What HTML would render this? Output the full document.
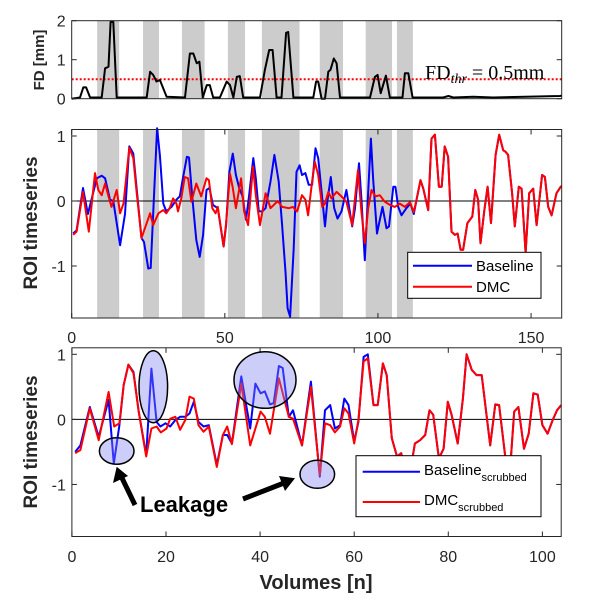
<!DOCTYPE html>
<html><head><meta charset="utf-8"><style>
html,body{margin:0;padding:0;background:#fff;}
svg{display:block;font-family:"Liberation Sans",Arial,sans-serif;}
.tk{font-size:16px;fill:#262626;}
</style></head><body>
<svg id="fig" width="605" height="605" viewBox="0 0 605 605" xmlns="http://www.w3.org/2000/svg">
<g id="bands1"></g>
<g id="bands2"></g>
<g id="marks"></g>
<g id="axes"></g>
</svg>
<script>
// ---- data ----
const bandStart=[8.3,23.3,36,51,62.1,81,96,106.2];
const bandEnd=[15.5,28.5,43.4,56.6,74.4,88.6,104.6,111.4];
const fdThr=0.5;
const fdX=[0,2.7,3.8,4.7,6,9.8,10.9,12,12.7,13.6,14.7,24.5,25.6,26.6,27.7,28.8,31,37,38.6,39.7,40.8,41.7,42.8,44.1,45.1,46.2,48.4,50.6,51.7,52.8,53.9,54.9,56,61.5,63.1,64.5,65.6,66.9,68.5,70,70.7,72.4,78.9,79.8,80.5,81.6,82.7,83.8,84.5,85.6,86.5,87.6,97.4,99,99.9,100.9,102.6,103.9,108,108.8,109.9,111.3,121.3,123,124.6,131.1,137.6,159.4,160];
const fdY=[0,0.03,0.29,0.29,0.03,0.03,0.78,0.82,1.97,1.97,0.03,0.03,0.69,0.61,0.44,0.48,0.05,0.03,1.16,1.16,0.91,0.95,0.03,0.35,0.35,0.03,0.03,0.44,0.35,0.03,0.56,0.58,0.03,0.03,0.74,1.25,1.25,0.03,0.03,1.69,1.71,0.03,0.03,0.44,0.44,0,0,0.69,0.74,1.03,0.91,0.03,0.03,0.56,0.61,0.14,0.59,0.03,0.03,0.65,0.65,0.03,0.03,0.07,0.03,0.05,0.03,0.07,0.08];

const baseX=[0.5,1.6,3.7,5.3,8.2,9.8,10.9,12.5,13.6,15.8,17.4,18.8,20.1,21.2,22.8,23.6,25,25.8,27.9,28.8,29.9,30.9,32.6,34.2,35.3,36.3,37.6,38.3,39.4,40.7,41.8,42.9,44,45,46.1,47.7,49.6,50.4,51.5,52.6,53.6,54.7,55.8,56.9,57.9,59.3,60.1,61.1,62.2,63.3,64.9,66.2,67.6,68.7,69.8,70.5,71.3,72.5,73.4,74.4,75.2,76.3,77.4,78.5,79.6,80.5,81.6,82.7,83.5,84.6,85.7,86.8,88.1,89.7,91.6,92.5,93.8,94.6,95.7,96.8,97.7,98.4,99.7,101.5,102.8,103.6,105,105.7,106.6,107.7,109.3,110.6,111.7];
const baseY=[-0.5,-0.45,0.2,-0.2,0.35,0.39,0.35,0.02,0,-0.68,-0.2,0.84,0.73,0.2,-0.57,-0.63,-1.04,-1.03,1.12,0.7,-0.04,-0.16,-0.09,0.02,0.07,0.35,0.68,0.67,0.04,-0.6,-0.86,-0.52,0.17,0.2,-0.06,-0.11,-0.7,-0.37,0.45,0.73,0.4,0.2,0.07,-0.29,0.07,0.66,0.35,-0.16,-0.16,-0.11,0.3,0.71,0.3,-0.37,-1.09,-1.65,-1.78,-0.73,0.45,0.55,0.4,0.43,0.25,0.25,0.81,0.66,0.14,-0.39,0,0.37,-0.11,-0.27,-0.16,0.17,-0.39,-0.11,0.58,0.04,-0.91,0.14,0.96,0.35,-0.5,-0.09,-0.42,-0.39,0.22,0.22,-0.09,-0.22,-0.11,-0.04,-0.2];
const dmcX=[0.5,1.6,3.7,5.6,7.6,8.7,9.8,10.9,12,13,14.7,15.8,16.9,18.8,20.1,21.2,22.8,24.5,25.6,26.6,28.3,29.9,30.9,32,33.1,34.2,34.7,35.8,36.9,38,39.1,40.7,42.3,44,44.8,45.9,47,47.7,49.6,50.4,51.7,52.6,53.6,55.3,56.3,57.6,59.2,60.1,61.5,63.3,64.9,67.3,68.7,70.9,72.2,73.6,75.2,76.3,77.2,78.5,79.4,80.5,81.8,82.7,83.8,84.8,86.5,88.1,89.7,91.6,93.5,94.6,95.7,96.8,97.9,99.2,100.6,102.2,103.9,105.5,107.1,108.8,110.4,111.7];
const dmcY=[-0.52,-0.47,0.14,-0.47,0.43,0.17,0.09,0.27,0.07,-0.09,0.17,-0.19,-0.04,0.82,0.66,0.14,-0.57,-0.34,-0.19,-0.37,-0.19,-0.14,-0.19,-0.11,0.04,-0.04,-0.16,0.04,0.37,0.35,-0.01,0.27,0.07,0.35,0.32,-0.11,-0.19,-0.09,-0.7,-0.34,0.42,0.2,-0.11,0.35,-0.16,-0.37,0.53,0.09,-0.37,0.12,-0.11,0,-0.09,-0.11,-0.09,-0.16,0.09,0.02,-0.22,0.3,0.6,0.4,-0.09,-0.04,0.14,0.04,0.14,0.07,-0.01,-0.37,0.48,-0.16,-0.65,-0.11,0.17,0.07,0.09,-0.01,-0.06,-0.09,-0.04,-0.09,-0.02,-0.17];
const lateX=[112.8,113.9,114.8,116.4,117.5,118.6,119.9,120.8,121.8,122.9,124,125.1,126,127,127.8,129.2,130.8,131.8,132.7,133.5,134.7,135.8,136.9,138.4,139.6,140.9,141.6,142.5,143.8,144.7,146,146.9,148.2,149.4,150.7,151.8,153.6,154.5,155.6,156.7,158.3,159.7,160];
const lateY=[0.07,0.32,0.19,-0.14,0.96,1.02,0.22,0.22,0.84,0.68,-0.47,-0.52,-0.5,-0.75,-0.75,-0.34,-0.24,0.17,0.02,-0.65,-0.16,0.22,-0.34,0.71,1.02,0.78,0.76,0.71,0.12,-0.39,0.22,0.19,-0.8,0.12,0.19,-0.37,0.4,0.37,-0.09,-0.22,0.12,0.22,0.23];

const sBaseX=[0.7,1.8,3.8,5.7,7.8,8.9,10.1,11,12,13.1,14.2,15.8,16.9,18,18.8,19.9,20.9,22,23,24.1,25,25.9,26.9,28,29.1,30.8,32.1,33,34,36,37.9,39,40.1,41,42.1,42.9,44,44.8,46.1,47,48.9,50.8,52.7,53.8,54.9,55.9,57,57.9,58.8,60,60.9,62,62.9];
const sBaseY=[-0.5,-0.4,0.19,-0.27,0.3,-0.68,-0.09,0.53,0.84,0.73,0.12,-0.55,0.78,-0.04,-0.11,-0.06,-0.11,-0.01,0.04,0.04,0.09,0.27,-0.04,-0.11,-0.09,-0.7,-0.24,-0.24,-0.37,0.66,-0.14,0.55,0.4,0.43,0.23,0.25,0.82,0.79,0.04,0.14,-0.4,0.58,-0.88,0.14,0.22,-0.14,-0.09,0.32,0.22,-0.34,-0.04,0.96,1.0];
const sDmcX=[0.7,1.8,3.8,5.7,7.8,9,10.1,11,12,13.1,14.2,15.8,16.9,18,18.9,20.1,20.9,22,23,24.1,25,25.9,26.9,28,29.1,30.8,32.1,33,34,36,37.9,40.1,41,42.1,44,46.1,47,48.9,50.8,52.7,53.8,54.9,55.9,57,57.9,58.8,60,60.9,62,62.9];
const sDmcY=[-0.52,-0.47,0.17,-0.32,0.42,-0.11,-0.06,0.53,0.84,0.71,0.12,-0.57,-0.14,-0.11,-0.2,-0.14,0.01,0.04,-0.16,-0.01,0.35,0.32,-0.09,-0.19,-0.11,-0.73,-0.24,-0.11,-0.38,0.55,-0.4,0.12,0.04,-0.22,0.63,0.04,0.01,-0.4,0.5,-0.86,-0.06,-0.09,-0.2,-0.11,0.17,0.09,-0.37,-0.01,0.89,0.94];
const sLateX=[64.1,65,66.1,66.9,68,69.1,70,70.8,71.9,72.9,74,75.1,76,76.8,78,79,79.9,80.7,82,83.1,83.9,85,86,87.1,88.9,90,90.8,92.2,93.2,94,94.9,96.1,97.1,98.1,99,100,101.1,102.2,103.1,104.2];
const sLateY=[0.22,0.22,0.86,0.68,-0.29,-0.57,-0.52,-0.78,-0.8,-0.37,-0.32,-0.24,0.14,0.07,-0.6,-0.45,0.27,0.07,-0.37,0.32,1.0,0.76,0.68,0.68,-0.4,0.23,0.22,-0.63,-0.7,0.12,0.19,-0.45,-0.22,0.4,0.38,-0.09,-0.22,-0.01,0.14,0.22];

// ---- scales ----
const P1={x0:71.7,x1:561.7,xmin:0,xmax:160,y0:98.7,y1:20.7,ymin:0,ymax:2};
const P2={x0:71.7,x1:561.7,xmin:0,xmax:160,y0:318,y1:129.5,ymin:-1.8,ymax:1.1};
const P3={x0:71.9,x1:561.2,xmin:0,xmax:104,y0:536.5,y1:347.8,ymin:-1.8,ymax:1.1};
function sx(P,v){return P.x0+(v-P.xmin)/(P.xmax-P.xmin)*(P.x1-P.x0);}
function sy(P,v){return P.y0+(v-P.ymin)/(P.ymax-P.ymin)*(P.y1-P.y0);}
const NS="http://www.w3.org/2000/svg";
function mk(tag,parent,attrs){const e=document.createElementNS(NS,tag);for(const k in attrs)e.setAttribute(k,attrs[k]);parent.appendChild(e);return e;}
function pathD(P,xs,ys){let d="";for(let i=0;i<xs.length;i++){const x=Math.min(Math.max(xs[i],P.xmin),P.xmax);d+=(i?"L":"M")+sx(P,x).toFixed(1)+","+sy(P,ys[i]).toFixed(1);}return d;}

const b1=document.getElementById('bands1'),b2=document.getElementById('bands2');
const marks=document.getElementById('marks'),axes=document.getElementById('axes');
for(let i=0;i<bandStart.length;i++){
  for(const [P,g] of [[P1,b1],[P2,b2]]){
    const r=mk('rect',g,{x:sx(P,bandStart[i]),y:P.y1,width:sx(P,bandEnd[i])-sx(P,bandStart[i]),height:P.y0-P.y1,fill:'#cccccc'});
    
    
  }
}
let e=mk('line',marks,{x1:P1.x0,x2:P1.x1,y1:sy(P1,fdThr),y2:sy(P1,fdThr),stroke:'#ff0000','stroke-width':2,'stroke-dasharray':'2,2'});


e=mk('path',marks,{d:pathD(P1,fdX,fdY),fill:'none',stroke:'#000','stroke-width':2,'stroke-linejoin':'round'});


for(const P of [P2,P3]){
  e=mk('line',marks,{x1:P.x0,x2:P.x1,y1:sy(P,0),y2:sy(P,0),stroke:'#000','stroke-width':1});
  
  
}
e=mk('path',marks,{d:pathD(P2,baseX.concat(lateX),baseY.concat(lateY)),fill:'none',stroke:'#0000ff','stroke-width':2,'stroke-linejoin':'round'});


e=mk('path',marks,{d:pathD(P2,dmcX.concat(lateX),dmcY.concat(lateY)),fill:'none',stroke:'#ff0000','stroke-width':2,'stroke-linejoin':'round'});


e=mk('path',marks,{d:pathD(P3,sBaseX.concat(sLateX),sBaseY.concat(sLateY)),fill:'none',stroke:'#0000ff','stroke-width':2,'stroke-linejoin':'round'});


e=mk('path',marks,{d:pathD(P3,sDmcX.concat(sLateX),sDmcY.concat(sLateY)),fill:'none',stroke:'#ff0000','stroke-width':2,'stroke-linejoin':'round'});



function box(P,name){
  const r=mk('rect',axes,{x:P.x0,y:P.y1,width:P.x1-P.x0,height:P.y0-P.y1,fill:'none',stroke:'#262626','stroke-width':1});
  
  
}
function yTicks(P,vals,labels){
  vals.forEach((v,i)=>{
    const y=sy(P,v);
    mk('line',axes,{x1:P.x0,x2:P.x0+5,y1:y,y2:y,stroke:'#262626'});
    mk('line',axes,{x1:P.x1,x2:P.x1-5,y1:y,y2:y,stroke:'#262626'});
    const t=mk('text',axes,{x:P.x0-6,y:y+6,'text-anchor':'end',class:'tk'});
    t.textContent=labels[i];
    
    
  });
}
function xTicks(P,vals,labels,ly){
  vals.forEach((v,i)=>{
    const x=sx(P,v);
    mk('line',axes,{x1:x,x2:x,y1:P.y0,y2:P.y0-5,stroke:'#262626'});
    mk('line',axes,{x1:x,x2:x,y1:P.y1,y2:P.y1+5,stroke:'#262626'});
    const t=mk('text',axes,{x:x,y:ly,'text-anchor':'middle',class:'tk'});
    t.textContent=labels[i];
    
    
  });
}
const fdTicks=[0,1,2], roiTicks=[1,0,-1];
const xTicksA=[0,50,100,150], xTicksB=[0,20,40,60,80,100];
box(P1,'fd-axes');box(P2,'roi-axes');box(P3,'roi-scrubbed-axes');
yTicks(P1,fdTicks,['0','1','2']);
yTicks(P2,roiTicks,['1','0','-1']);
yTicks(P3,roiTicks,['1','0','-1']);
xTicks(P2,xTicksA,['0','50','100','150'],343);
xTicks(P3,xTicksB,['0','20','40','60','80','100'],562);
</script>
<svg width="605" height="605" style="position:absolute;left:0;top:0" xmlns="http://www.w3.org/2000/svg">
<text x="425" y="79" font-family="'Liberation Serif',serif" font-size="20" fill="#000">FD<tspan font-style="italic" font-size="14" dy="4">thr</tspan><tspan dy="-4"> = 0.5mm</tspan></text>
<text transform="translate(44,60) rotate(-90)" text-anchor="middle" style="font-size:15px;font-weight:bold;fill:#262626;font-family:'Liberation Sans',sans-serif">FD [mm]</text>
<text transform="translate(37,223) rotate(-90)" text-anchor="middle" style="font-size:19px;font-weight:bold;fill:#262626;font-family:'Liberation Sans',sans-serif">ROI timeseries</text>
<text transform="translate(37,442) rotate(-90)" text-anchor="middle" style="font-size:19px;font-weight:bold;fill:#262626;font-family:'Liberation Sans',sans-serif">ROI timeseries</text>
<text x="316" y="589" text-anchor="middle" style="font-size:20px;font-weight:bold;fill:#262626;font-family:'Liberation Sans',sans-serif">Volumes [n]</text>
<g>
<rect x="407.7" y="252.3" width="133.3" height="46" fill="#fff" stroke="#000" stroke-width="1"/>
<line x1="413" x2="472" y1="265.7" y2="265.7" stroke="#0000ff" stroke-width="2"/>
<text x="476" y="271" style="font-size:15px;font-family:'Liberation Sans',sans-serif">Baseline</text>
<line x1="413" x2="472" y1="286.7" y2="286.7" stroke="#ff0000" stroke-width="2"/>
<text x="476" y="292" style="font-size:15px;font-family:'Liberation Sans',sans-serif">DMC</text>
</g>
<g>
<rect x="356" y="455.7" width="185" height="61" fill="#fff" stroke="#000" stroke-width="1"/>
<line x1="362.7" x2="420" y1="471.7" y2="471.7" stroke="#0000ff" stroke-width="2"/>
<text x="424" y="475" style="font-size:15px;font-family:'Liberation Sans',sans-serif">Baseline<tspan font-size="11" dy="6">scrubbed</tspan></text>
<line x1="362.7" x2="420" y1="502" y2="502" stroke="#ff0000" stroke-width="2"/>
<text x="424" y="505" style="font-size:15px;font-family:'Liberation Sans',sans-serif">DMC<tspan font-size="11" dy="6">scrubbed</tspan></text>
</g>
<g fill="rgba(130,130,240,0.4)" stroke="#000" stroke-width="1.5">
<ellipse cx="116.7" cy="451" rx="17.3" ry="13.3"/>
<ellipse cx="153.3" cy="386.7" rx="14.3" ry="36"/>
<ellipse cx="265" cy="380" rx="31" ry="28.3"/>
<ellipse cx="317.3" cy="474.3" rx="17.3" ry="14"/>
</g>
<g stroke="#000" fill="#000">
<line x1="135" y1="505" x2="122" y2="478" stroke-width="5"/>
<polygon points="116.7,466.7 113,483 128,476" stroke="none"/>
<line x1="243" y1="499" x2="284" y2="483" stroke-width="5"/>
<polygon points="295,478.3 279,476 285,491" stroke="none"/>
</g>
<text x="140" y="512" style="font-size:22px;font-weight:bold;font-family:'Liberation Sans',sans-serif">Leakage</text>
</svg>
</body></html>
